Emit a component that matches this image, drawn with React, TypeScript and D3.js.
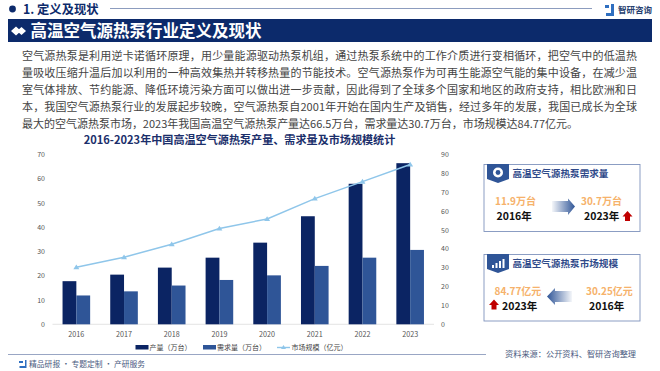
import React from "react";
import * as d3 from "d3";

const years = ["2016", "2017", "2018", "2019", "2020", "2021", "2022", "2023"];
const production = [17.8, 20.5, 23.4, 27.5, 33.7, 44.6, 58, 66.5];
const demand = [11.9, 13.6, 16, 18.3, 20.2, 24.1, 27.5, 30.7];
const marketSize = [30.25, 35.6, 42.5, 50.8, 55.9, 66.7, 75.7, 84.77];
const leftTicks = [0, 10, 20, 30, 40, 50, 60, 70];
const rightTicks = [0, 10, 20, 30, 40, 50, 60, 70, 80, 90];
const bodyLines = [
  "空气源热泵是利用逆卡诺循环原理，用少量能源驱动热泵机组，通过热泵系统中的工作介质进行变相循环，把空气中的低温热",
  "量吸收压缩升温后加以利用的一种高效集热并转移热量的节能技术。空气源热泵作为可再生能源空气能的集中设备，在减少温",
  "室气体排放、节约能源、降低环境污染方面可以做出进一步贡献，因此得到了全球多个国家和地区的政府支持，相比欧洲和日",
  "本，我国空气源热泵行业的发展起步较晚，空气源热泵自2001年开始在国内生产及销售，经过多年的发展，我国已成长为全球",
  "最大的空气源热泵市场，2023年我国高温空气源热泵产量达66.5万台，需求量达30.7万台，市场规模达84.77亿元。",
];
const bodyWidths = [615, 615, 615, 615, 556];

const FONT = "'Noto Sans CJK SC', 'Noto Sans', sans-serif";
const NAVY = "#0c2a6b";
const DARK = "#0b2463";
const MID = "#2f5597";
const SKY = "#8fc6ea";
const ORANGE = "#f6b26b";
const GREY = "#555";

function UpArrow({ x, y }: { x: number; y: number }) {
  return (
    <path
      transform={`translate(${x},${y})`}
      d="M0,-5.5 L5,0 L2.5,0 L2.5,4.5 L-2.5,4.5 L-2.5,0 L-5,0 Z"
      fill="#c00000"
    />
  );
}

function Badge({ x, y }: { x: number; y: number }) {
  return (
    <path
      transform={`translate(${x},${y})`}
      d="M0,0 H22 V15 L11,19 L0,15 Z"
      fill="#2f5597"
    />
  );
}

export default function App() {
  const y0 = 324.3;
  const y1 = 154.7;
  const yLeft = d3.scaleLinear().domain([0, 70]).range([y0, y1]);
  const yRight = d3.scaleLinear().domain([0, 90]).range([y0, y1]);
  const x = d3.scaleBand().domain(years).range([52.5, 434]).paddingInner(0.44).paddingOuter(0.22);
  const cx = (year: string) => (x(year) as number) + x.bandwidth() / 2;
  const half = 13.8;
  const line = d3
    .line<number>()
    .x((_, i) => cx(years[i]))
    .y((d) => yRight(d));

  return (
    <svg
      width={660}
      height={371}
      viewBox="0 0 660 371"
      style={{ position: "fixed", left: 0, top: 0, background: "#fff" }}
      fontFamily={FONT}
    >
      <defs>
        <linearGradient id="arrowR" x1="0" x2="1" y1="0" y2="0">
          <stop offset="0" stopColor="#2f5597" stopOpacity={0.05} />
          <stop offset="1" stopColor="#2f5597" />
        </linearGradient>
        <linearGradient id="arrowL" x1="1" x2="0" y1="0" y2="0">
          <stop offset="0" stopColor="#2f5597" stopOpacity={0.05} />
          <stop offset="1" stopColor="#2f5597" />
        </linearGradient>
      </defs>

      {/* header */}
      <circle cx={12.5} cy={9} r={3.4} fill={NAVY} />
      <text x={23} y={13.5} fontSize={12.3} fontWeight={700} fill={NAVY}>1. 定义及现状</text>
      <line x1={110} x2={592} y1={8.5} y2={8.5} stroke="#6f83ad" strokeWidth={0.8} />
      <path d="M605,5 h4 v3 h-4 z M611,4 h3 v12 h-8 v-3 h5 z" fill="#2f6fc0" />
      <text x={618} y={13} fontSize={8.5} fontWeight={700} fill="#26406f">智研咨询</text>

      <rect x={8} y={19} width={644} height={23} fill={NAVY} />
      <path d="M11,31 L16,26.5 L21,31 L16,35.5 Z M17,31 L21.5,27 L26,31 L21.5,35 Z" fill="#fff" />
      <text x={30.5} y={37} fontSize={16.5} fontWeight={700} fill="#fff">高温空气源热泵行业定义及现状</text>

      {/* body */}
      {bodyLines.map((t, i) => (
        <text
          key={i}
          x={22}
          y={60 + i * 17}
          fontSize={11}
          fill="#444"
          textLength={bodyWidths[i]}
          lengthAdjust="spacing"
        >
          {t}
        </text>
      ))}

      {/* chart title */}
      <text x={239.5} y={144} textAnchor="middle" fontSize={11.1} fontWeight={700} fill="#1b2f6b">
        2016-2023年中国高温空气源热泵产量、需求量及市场规模统计
      </text>

      {/* axes */}
      <line x1={52.5} x2={434} y1={y0} y2={y0} stroke="#ddd" strokeWidth={0.8} />
      {leftTicks.map((t) => (
        <text key={t} x={45} y={yLeft(t) + 2.5} textAnchor="end" fontSize={7} fill={GREY}>{t}</text>
      ))}
      {rightTicks.map((t) => (
        <text key={t} x={441} y={yRight(t) + 2.5} fontSize={7} fill={GREY}>{t}</text>
      ))}
      {years.map((yr) => (
        <text key={yr} x={cx(yr)} y={337} textAnchor="middle" fontSize={7.2} fill={GREY}>{yr}</text>
      ))}

      {/* bars */}
      {years.map((yr, i) => (
        <g key={yr}>
          <rect x={cx(yr) - half} y={yLeft(production[i])} width={half} height={y0 - yLeft(production[i])} fill={DARK} />
          <rect x={cx(yr)} y={yLeft(demand[i])} width={half} height={y0 - yLeft(demand[i])} fill={MID} />
        </g>
      ))}

      {/* line */}
      <path d={line(marketSize) || ""} fill="none" stroke={SKY} strokeWidth={1.5} />
      {marketSize.map((v, i) => (
        <path
          key={i}
          transform={`translate(${cx(years[i])},${yRight(v)})`}
          d="M0,-2.8 L3,2 L-3,2 Z"
          fill={SKY}
        />
      ))}

      {/* legend */}
      <rect x={135.5} y={345} width={13} height={4.5} fill={DARK} />
      <text x={149.5} y={350} fontSize={7} fill="#444">产量（万台）</text>
      <rect x={203} y={345} width={13} height={4.5} fill={MID} />
      <text x={217} y={350} fontSize={7} fill="#444">需求量（万台）</text>
      <line x1={277} x2={290} y1={347.5} y2={347.5} stroke={SKY} strokeWidth={1.4} />
      <path d="M283.5,345 L286,349 L281,349 Z" fill={SKY} />
      <text x={291.5} y={350} fontSize={7} fill="#444">市场规模（亿元）</text>

      {/* footer */}
      <line x1={8} x2={486} y1={354.5} y2={354.5} stroke="#7f8fb5" strokeWidth={0.8} />
      <path d="M19,361 h4 v2 h-4 z M25,360 h1.5 v8 h-7 v-2 h5.5 z" fill="#2f6fc0" />
      <text x={29} y={367} fontSize={7.8} fill="#4a5a80">精品研报 · 专题定制 · 产研服务</text>
      <text x={505} y={357} fontSize={8.2} fill="#4a5a80">资料来源：公开资料、智研咨询整理</text>

      {/* card 1 */}
      <rect x={484} y={164.5} width={156} height={67} fill="#fff" stroke="#7f93bd" strokeWidth={0.9} />
      <Badge x={487} y={164} />
      <circle cx={498} cy={172.5} r={5} fill="#fff" />
      <circle cx={498} cy={172.5} r={2.4} fill="#2f5597" />
      <text x={512.5} y={177} fontSize={9.6} fontWeight={700} fill="#2f4a8a">高温空气源热泵需求量</text>
      <text x={495} y={205} fontSize={10} fontWeight={700} fill={ORANGE}>11.9万台</text>
      <text x={496.5} y={220} fontSize={10.5} fontWeight={700} fill="#111">2016年</text>
      <path d="M552,201 H568 V198.5 L575,206.5 L568,215 V212 H552 Z" fill="url(#arrowR)" />
      <text x={581} y={205} fontSize={10} fontWeight={700} fill={ORANGE}>30.7万台</text>
      <text x={584} y={220} fontSize={10.5} fontWeight={700} fill="#111">2023年</text>
      <UpArrow x={627.5} y={216.5} />

      {/* card 2 */}
      <rect x={484} y={254.5} width={156} height={66.5} fill="#fff" stroke="#7f93bd" strokeWidth={0.9} />
      <Badge x={487} y={254} />
      <path d="M492,268 v-3 h2 v3 z M495.5,268 v-5 h2 v5 z M499,268 v-7 h2 v7 z M502.5,268 v-9 h2 v9 z" fill="#fff" />
      <text x={512.5} y={267} fontSize={9.6} fontWeight={700} fill="#2f4a8a">高温空气源热泵市场规模</text>
      <text x={494.5} y={295} fontSize={10} fontWeight={700} fill={ORANGE}>84.77亿元</text>
      <UpArrow x={494} y={305} />
      <text x={502} y={310} fontSize={10.5} fontWeight={700} fill="#111">2023年</text>
      <path d="M572,291 H555 V288 L547,296.5 L555,305 V302 H572 Z" fill="url(#arrowL)" />
      <text x={586} y={295} fontSize={10} fontWeight={700} fill={ORANGE}>30.25亿元</text>
      <text x={589} y={310} fontSize={10.5} fontWeight={700} fill="#111">2016年</text>
    </svg>
  );
}
